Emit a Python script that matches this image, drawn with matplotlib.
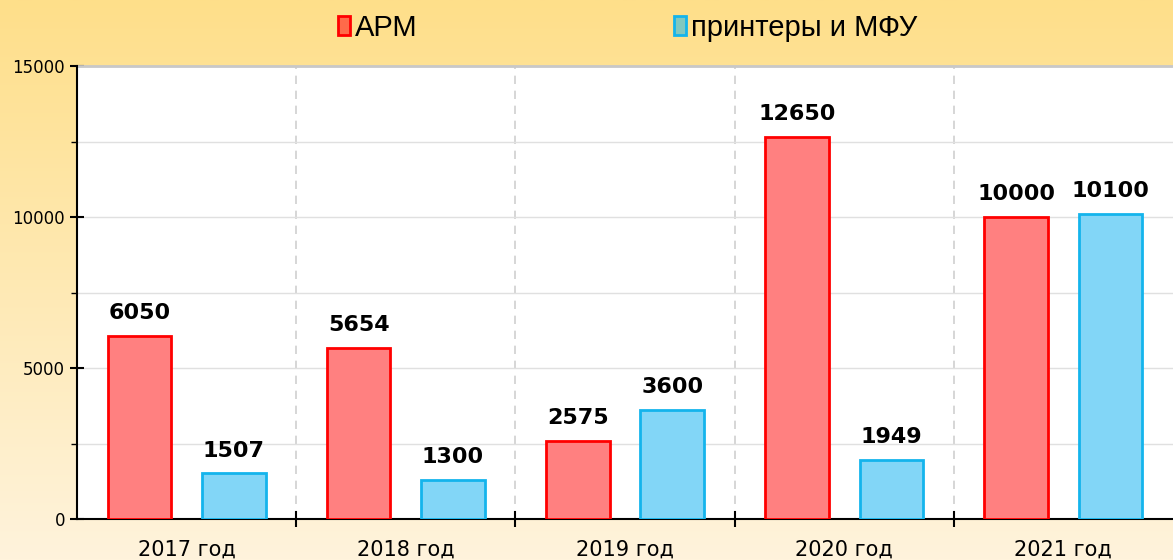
import numpy as np
import matplotlib.pyplot as plt
from matplotlib.colors import LinearSegmentedColormap
from matplotlib.patches import Patch
from matplotlib.ticker import MultipleLocator

years = ['2017 год', '2018 год', '2019 год', '2020 год', '2021 год']
arm = [6050, 5654, 2575, 12650, 10000]
printers = [1507, 1300, 3600, 1949, 10100]
series_names = ['АРМ', 'принтеры и МФУ']

fig = plt.figure(figsize=(11.73, 5.6), dpi=100)

# фон с градиентом
bg = fig.add_axes([0, 0, 1, 1], zorder=-10)
cmap = LinearSegmentedColormap.from_list('bg', ['#fff3dc', '#fedf8a'])
bg.imshow(np.linspace(0, 1, 256).reshape(-1, 1), aspect='auto', cmap=cmap,
          origin='lower', extent=[0, 1, 0, 1])
bg.axis('off')

ax = fig.add_axes([77 / 1173, 1 - 519 / 560, 1 - 77 / 1173, (519 - 66) / 560])
ax.set_facecolor('white')

x = np.arange(len(years))
w = 0.29
b1 = ax.bar(x - 0.215, arm, w, color='#ff8080', edgecolor='#ff0000', linewidth=2, zorder=3)
b2 = ax.bar(x + 0.215, printers, w, color='#82d6f7', edgecolor='#14b4ec', linewidth=2, zorder=3)

for bars, vals in [(b1, arm), (b2, printers)]:
    for rect, v in zip(bars, vals):
        ax.text(rect.get_x() + rect.get_width() / 2, v + 430, str(v), ha='center', va='bottom',
                fontsize=16, fontweight='bold', family='DejaVu Sans')

ax.set_xlim(-0.5, len(years) - 0.5)
ax.set_ylim(0, 15000)
ax.yaxis.set_major_locator(MultipleLocator(5000))
ax.yaxis.set_minor_locator(MultipleLocator(2500))
ax.grid(axis='y', which='both', color='#e0e0e0', linewidth=1, zorder=0)
ax.axhline(15000, color='#c8c8c8', linewidth=2, zorder=2, clip_on=False)

ax.set_xticks(x)
ax.set_xticklabels(years, fontsize=15)
ax.set_xticks(np.arange(0.5, len(years) - 0.5, 1), minor=True)
for b in np.arange(0.5, len(years) - 0.5, 1):
    ax.axvline(b, color='#d0d0d0', linestyle=(0, (5, 4)), linewidth=1.2, zorder=1)
ax.tick_params(axis='x', which='major', length=0, pad=15)
ax.tick_params(axis='x', which='minor', direction='inout', length=12, width=1.5)
ax.tick_params(axis='y', which='major', direction='inout', length=10, width=1.5, labelsize=12)
ax.tick_params(axis='y', which='minor', direction='out', length=4, width=1)

for s in ['top', 'right']:
    ax.spines[s].set_visible(False)
ax.spines['left'].set_linewidth(1.5)
ax.spines['bottom'].set_linewidth(1.5)

handles = [Patch(facecolor='#ff6a4a', edgecolor='#ff0000', linewidth=2),
           Patch(facecolor='#80c8c0', edgecolor='#14b4ec', linewidth=2)]
fig.legend(handles=handles, labels=series_names, loc='center', bbox_to_anchor=(0.535, 0.950), ncol=2,
           frameon=False, handlelength=0.42, handleheight=0.6, handletextpad=0.15,
           columnspacing=8.8, prop={'family': 'Liberation Sans', 'size': 21})

fig.savefig('out.png', dpi=100)
